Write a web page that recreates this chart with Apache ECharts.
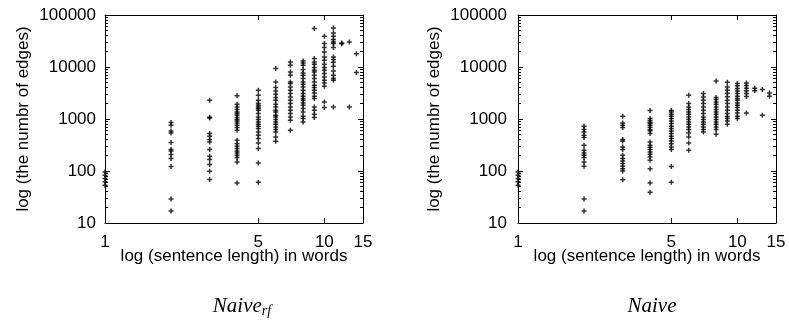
<!DOCTYPE html>
<html><head><meta charset="utf-8">
<script src="https://cdn.jsdelivr.net/npm/echarts@6/dist/echarts.min.js"></script>
<style>html,body{margin:0;padding:0;background:#fff}#c{width:789px;height:326px}</style>
</head><body><div id="c"></div>
<script>
// ---- data ----
const sentenceLengths = [1, 2, 3, 4, 5, 6, 7, 8, 9, 10, 11, 12, 13, 14];

// Naive_rf : number of edges per sentence, grouped by sentence length
const naiveRfEdges = [
  [96, 83, 72, 62, 53],
  [853, 757, 588, 538, 352, 258, 243, 207, 173, 122, 29, 17],
  [2290, 1078, 1040, 524, 465, 402, 361, 258, 192, 166, 133, 99, 69],
  [2800, 1917, 1700, 1517, 1364, 1270, 1178, 1064, 973, 916, 838, 757, 684, 606, 389, 336, 299, 270, 243, 222, 200, 181, 149, 59],
  [3565, 2857, 2290, 1977, 1834, 1700, 1585, 1469, 1270, 1092, 973, 875, 791, 724, 654, 562, 486, 420, 345, 270, 143, 61],
  [9400, 5150, 4017, 3454, 2985, 2580, 2290, 1917, 1700, 1469, 1364, 1178, 1092, 973, 875, 791, 702, 625, 562, 451, 372],
  [12500, 10780, 8010, 6920, 5150, 4795, 4125, 3565, 3080, 2650, 2290, 1977, 1700, 1469, 1270, 1092, 944, 606],
  [13000, 11940, 10780, 8910, 7670, 6920, 5980, 5150, 4650, 4125, 3565, 3080, 2733, 2467, 2290, 2030, 1834, 1585, 1364, 1127, 1018, 875],
  [55000, 14500, 12480, 11270, 9730, 8650, 8010, 6920, 5980, 5150, 4450, 4017, 3565, 3162, 2733, 2467, 1700, 1469, 1231, 1064],
  [38900, 28200, 23600, 19420, 15570, 13450, 11270, 9730, 8650, 7460, 6420, 5550, 4925, 4250, 2123, 1656],
  [56000, 45060, 38900, 33650, 30270, 28200, 23600, 15570, 13870, 12300, 10310, 8380, 6920, 5980, 5550, 1700],
  [28960, 28000],
  [30270, 1700],
  [18000, 7800]
];

// Naive : number of edges per sentence, grouped by sentence length
const naiveEdges = [
  [96, 83, 72, 62, 53],
  [724, 625, 562, 486, 439, 312, 250, 222, 200, 181, 149, 123, 29, 17],
  [1127, 838, 757, 684, 402, 378, 290, 258, 200, 173, 156, 139, 123, 111, 100, 68],
  [1452, 1018, 931, 864, 816, 757, 692, 625, 593, 524, 361, 312, 286, 258, 232, 209, 186, 161, 111, 59, 39],
  [1450, 1364, 1231, 1127, 1018, 915, 816, 724, 654, 588, 524, 465, 420, 378, 336, 290, 258, 122, 61],
  [2857, 1977, 1700, 1517, 1364, 1231, 1092, 973, 875, 791, 702, 625, 538, 451, 345, 250],
  [3080, 2650, 2290, 1977, 1700, 1469, 1270, 1092, 973, 875, 791, 702, 625, 562],
  [5380, 2580, 2361, 2123, 1917, 1700, 1517, 1364, 1231, 1092, 973, 875, 791, 702, 625, 508],
  [5075, 4125, 3565, 3120, 2673, 2290, 1977, 1700, 1469, 1270, 1112, 1018, 915, 791],
  [4800, 4350, 3845, 3454, 3080, 2733, 2467, 2290, 2030, 1834, 1656, 1469, 1303, 1127, 1018],
  [4900, 4400, 3900, 3500, 3100, 2700, 1300],
  [3900, 3500],
  [3700, 1180],
  [3160, 2730]
];

const xTickValues = [1, 5, 10, 15];
const xTopTickValues = [5, 10];
const yTickValues = [10, 100, 1000, 10000, 100000];
const xAxisTitle = 'log (sentence length) in words';
const yAxisTitle = 'log (the numbr of edges)';
const captionMain = ['Naive', 'Naive'];
const captionSub = ['rf', ''];

// ---- helpers ----
const yMinorTickValues = [];
for (let d = 10; d < 100000; d *= 10) for (let k = 2; k <= 9; k++) yMinorTickValues.push(d * k);

function toPoints(edges) {
  const pts = [];
  edges.forEach((col, i) => col.forEach(v => pts.push([sentenceLengths[i], v])));
  return pts;
}

const FONT = 'Liberation Sans';
const lineStyle = { color: '#000', width: 1 };
const plusSymbol = 'path://M1.75,0H3.25V5H1.75ZM0,1.75H5V3.25H0Z';

const grids = [
  { left: 105, top: 15, width: 258, height: 208 },
  { left: 518, top: 15, width: 258, height: 208 }
];
const yLabelMargin = [9, 11];
const yNameGap = [73, 75];

const xAxes = [], yAxes = [], series = [];
grids.forEach((g, gi) => {
  xAxes.push({
    gridIndex: gi, type: 'log', logBase: 10, min: 1, max: 15, position: 'bottom',
    axisLine: { show: true, lineStyle },
    axisTick: { show: true, inside: true, length: 5, lineStyle, customValues: xTickValues },
    axisLabel: { show: true, customValues: xTickValues, color: '#000', fontFamily: FONT, fontSize: 17, margin: 11,
      formatter: v => String(Math.round(v)) },
    splitLine: { show: false }, minorTick: { show: false },
    name: xAxisTitle, nameLocation: 'middle', nameGap: 25, nameMoveOverlap: false,
    nameTextStyle: { color: '#000', fontFamily: FONT, fontSize: 17 }
  });
  xAxes.push({
    gridIndex: gi, type: 'log', logBase: 10, min: 1, max: 15, position: 'top',
    axisLine: { show: true, lineStyle },
    axisTick: { show: true, inside: true, length: 5, lineStyle, customValues: xTopTickValues },
    axisLabel: { show: false }, splitLine: { show: false }
  });
  const yBase = { gridIndex: gi, type: 'log', logBase: 10, min: 10, max: 100000, splitLine: { show: false } };
  yAxes.push(Object.assign({}, yBase, {
    position: 'left',
    axisLine: { show: true, lineStyle },
    axisTick: { show: true, inside: true, length: 5, lineStyle, customValues: yTickValues },
    axisLabel: { show: true, customValues: yTickValues, color: '#000', fontFamily: FONT, fontSize: 17,
      margin: yLabelMargin[gi], formatter: v => String(Math.round(v)) },
    name: yAxisTitle, nameLocation: 'middle', nameGap: yNameGap[gi], nameMoveOverlap: false,
    nameTextStyle: { color: '#000', fontFamily: FONT, fontSize: 17 }
  }));
  yAxes.push(Object.assign({}, yBase, {
    position: 'left', axisLine: { show: false },
    axisTick: { show: true, inside: true, length: 3, lineStyle, customValues: yMinorTickValues },
    axisLabel: { show: false }
  }));
  yAxes.push(Object.assign({}, yBase, {
    position: 'right', axisLine: { show: true, lineStyle },
    axisTick: { show: true, inside: true, length: 5, lineStyle, customValues: yTickValues },
    axisLabel: { show: false }
  }));
  yAxes.push(Object.assign({}, yBase, {
    position: 'right', axisLine: { show: false },
    axisTick: { show: true, inside: true, length: 3, lineStyle, customValues: yMinorTickValues },
    axisLabel: { show: false }
  }));
  series.push({
    type: 'scatter', xAxisIndex: gi * 2, yAxisIndex: gi * 4,
    data: toPoints(gi === 0 ? naiveRfEdges : naiveEdges),
    symbol: plusSymbol, symbolSize: 5, itemStyle: { color: '#000' },
    clip: false, silent: true
  });
});

const captionCenters = [237, 647];
const titles = captionMain.map((t, i) => ({
  text: captionSub[i] ? '{n|' + t + '}{s|' + captionSub[i] + '}' : '{n|' + t + '}',
  left: captionCenters[i], top: 289, textAlign: 'center',
  textStyle: {
    fontWeight: 'normal',
    rich: {
      n: { fontFamily: 'Liberation Serif', fontStyle: 'italic', fontWeight: 'normal', fontSize: 21, color: '#000', lineHeight: 24, verticalAlign: 'middle' },
      s: { fontFamily: 'Liberation Serif', fontStyle: 'italic', fontWeight: 'normal', fontSize: 14, color: '#000', lineHeight: 16, verticalAlign: 'bottom' }
    }
  }
}));

const chart = echarts.init(document.getElementById('c'), null, { renderer: 'canvas' });
chart.setOption({
  animation: false,
  backgroundColor: '#fff',
  title: titles,
  grid: grids.map(g => Object.assign({ outerBoundsMode: 'none', containLabel: false }, g)),
  xAxis: xAxes,
  yAxis: yAxes,
  series: series
});
</script>
</body></html>
